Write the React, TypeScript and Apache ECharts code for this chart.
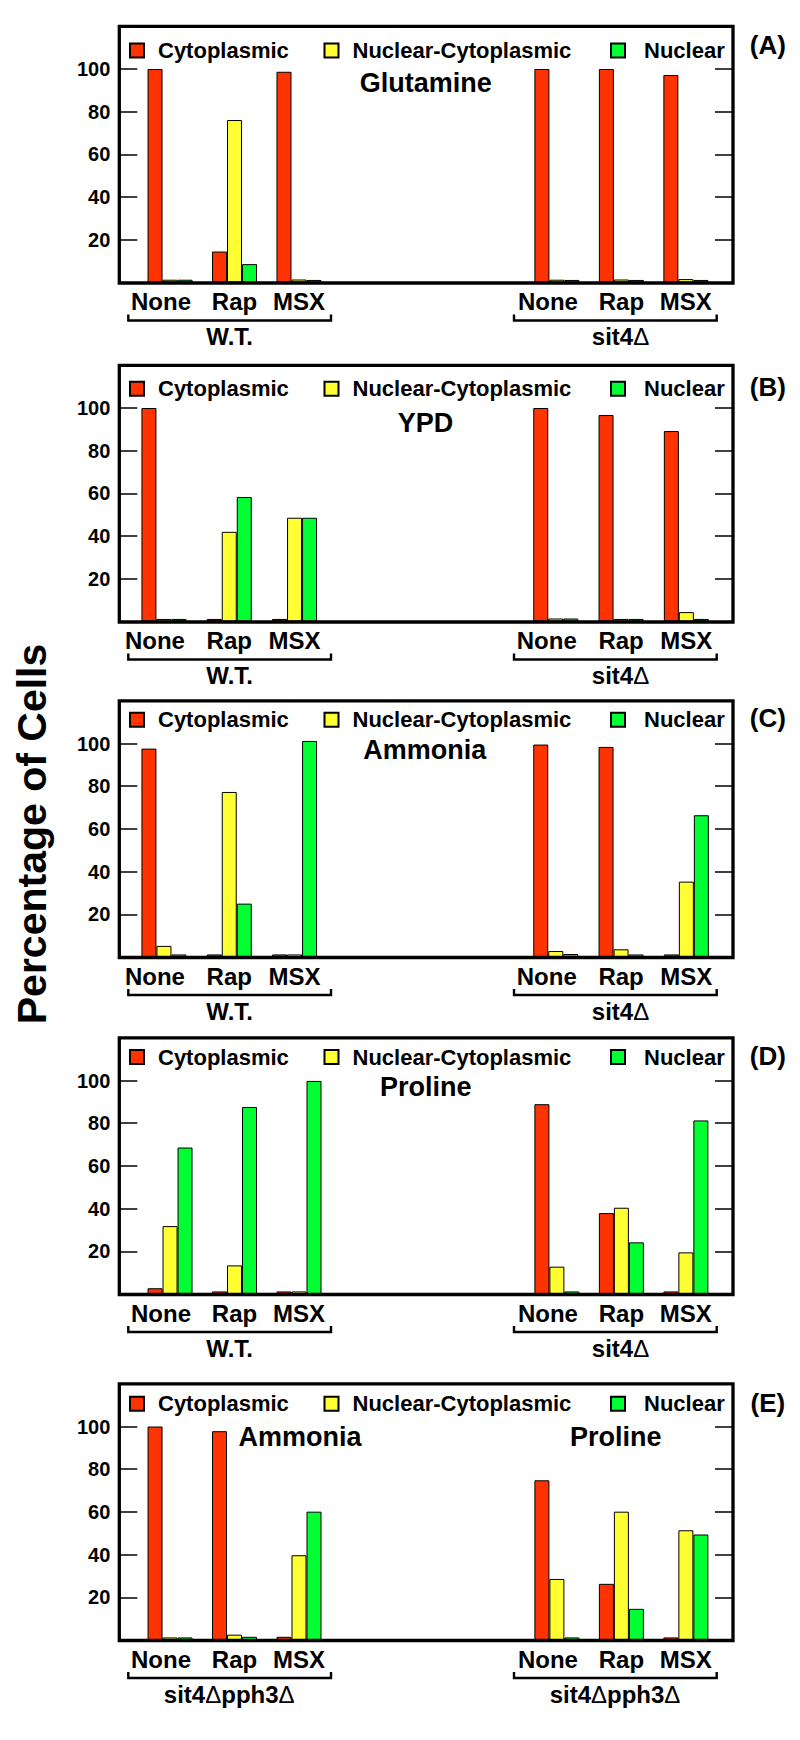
import React, { useEffect, useRef } from 'react';
import * as echarts from 'echarts';

// ---------- data ----------
const categories = ['None', 'Rap', 'MSX', '', '', '', 'None', 'Rap', 'MSX'];
const seriesNames = ['Cytoplasmic', 'Nuclear-Cytoplasmic', 'Nuclear'];
const seriesColors = ['#ff3300', '#ffff33', '#00ff33'];
const yTickLabels = [20, 40, 60, 80, 100];

// Panel A: Glutamine
const glutamineCyto = [100, 14.5, 98.7, null, null, null, 100, 100, 97.2];
const glutamineNucCyto = [1.3, 76.1, 1.4, null, null, null, 1.3, 1.4, 1.6];
const glutamineNuclear = [1.3, 8.6, 1.2, null, null, null, 1.2, 1.2, 1.2];

// Panel B: YPD
const ypdCyto = [100, 1.2, 1.2, null, null, null, 100, 96.7, 89.2];
const ypdNucCyto = [1.2, 42, 48.6, null, null, null, 1.4, 1.2, 4.4];
const ypdNuclear = [1.2, 58.3, 48.6, null, null, null, 1.4, 1.2, 1.2];

// Panel C: Ammonia
const ammoniaCyto = [97.6, 1.2, 1.2, null, null, null, 99.5, 98.4, 1.2];
const ammoniaNucCyto = [5.2, 77.3, 1.2, null, null, null, 2.8, 3.6, 35.3];
const ammoniaNuclear = [1.2, 25, 101.2, null, null, null, 1.4, 1.2, 66.4];

// Panel D: Proline
const prolineCyto = [2.7, 1.2, 1.2, null, null, null, 88.9, 37.9, 1.2];
const prolineNucCyto = [31.8, 13.4, 1.2, null, null, null, 12.8, 40.4, 19.5];
const prolineNuclear = [68.6, 87.6, 99.8, null, null, null, 1.2, 24.2, 81.3];

// Panel E: sit4Δpph3Δ on Ammonia (left) / Proline (right)
const doubleCyto = [100, 97.8, 1.5, null, null, null, 74.8, 26.3, 1.2];
const doubleNucCyto = [1.2, 2.5, 39.7, null, null, null, 28.6, 60.1, 51.4];
const doubleNuclear = [1.2, 1.5, 60.1, null, null, null, 1.2, 14.6, 49.4];

const panelData = [
  [glutamineCyto, glutamineNucCyto, glutamineNuclear],
  [ypdCyto, ypdNucCyto, ypdNuclear],
  [ammoniaCyto, ammoniaNucCyto, ammoniaNuclear],
  [prolineCyto, prolineNucCyto, prolineNuclear],
  [doubleCyto, doubleNucCyto, doubleNuclear],
];
const panelLetters = ['(A)', '(B)', '(C)', '(D)', '(E)'];
const panelConditions = [['Glutamine'], ['YPD'], ['Ammonia'], ['Proline'], ['Ammonia', 'Proline']];
const panelStrains = [
  ['W.T.', 'sit4Δ'],
  ['W.T.', 'sit4Δ'],
  ['W.T.', 'sit4Δ'],
  ['W.T.', 'sit4Δ'],
  ['sit4Δpph3Δ', 'sit4Δpph3Δ'],
];
const yAxisTitle = 'Percentage of Cells';

// ---------- layout (pixels) ----------
const FONT = "'Liberation Sans', Arial, Helvetica, sans-serif";
const FRAME_L = 119.3;
const FRAME_R = 733;
const PX_PER_UNIT = 2.135;
const Y_MAX = 120;
const layout = [
  { zero: 282.5, gl: 137.8, gr: 81.9, legendY: 50.5, letterY: 44.7, subY: 83.3, subX: [425.8], strainX: [229.7, 620.5] },
  { zero: 621.5, gl: 131.3, gr: 81.0, legendY: 388.7, letterY: 386.7, subY: 423.3, subX: [425.6], strainX: [229.7, 620.5] },
  { zero: 957, gl: 131.3, gr: 81.0, legendY: 719.7, letterY: 718.3, subY: 750, subX: [424.8], strainX: [229.7, 620.5] },
  { zero: 1294, gl: 137.8, gr: 81.9, legendY: 1057, letterY: 1055.8, subY: 1087, subX: [425.8], strainX: [229.7, 620.5] },
  { zero: 1640, gl: 137.8, gr: 81.9, legendY: 1403.8, letterY: 1403.3, subY: 1437, subX: [300, 615.8], strainX: [229.2, 615] },
];
const legendX = [129, 323.5, 610];
const legendTextGap = [9, 9, 14];
const bracketX = [[128.3, 331], [514, 716.7]];

function richDelta(s: string): string {
  return s
    .split('Δ')
    .map((part, i, arr) => (part ? `{b|${part}}` : '') + (i < arr.length - 1 ? '{d|Δ}' : ''))
    .join('');
}

function buildOption() {
  const grid: any[] = [];
  const xAxis: any[] = [];
  const yAxis: any[] = [];
  const series: any[] = [];
  const legend: any[] = [];
  const elements: any[] = [];

  layout.forEach((L, i) => {
    const h = Y_MAX * PX_PER_UNIT;
    const top = L.zero - h;
    grid.push({ left: L.gl, right: L.gr, top, height: h, containLabel: false, outerBoundsMode: 'none' });
    xAxis.push({
      type: 'category',
      gridIndex: i,
      data: categories.map((c) =>
        c === 'None' ? { value: c, textStyle: { padding: [0, 18, 0, 0] } } : c
      ),
      axisLine: { show: false },
      axisTick: { show: false },
      axisLabel: {
        interval: 0,
        margin: 7,
        fontSize: 24,
        fontWeight: 'bold',
        color: '#000',
        fontFamily: FONT,
      },
      splitLine: { show: false },
    });
    const yCommon = {
      type: 'value',
      gridIndex: i,
      min: 0,
      max: Y_MAX,
      interval: 20,
      axisLine: { show: false },
      splitLine: { show: false },
      axisTick: { show: true, inside: true, length: 18, lineStyle: { color: '#000', width: 1.5 } },
    };
    yAxis.push({
      ...yCommon,
      position: 'left',
      offset: L.gl - FRAME_L,
      axisLabel: {
        margin: 9,
        fontSize: 20,
        fontWeight: 'bold',
        color: '#000',
        fontFamily: FONT,
        formatter: (v: number) => (yTickLabels.includes(v) ? String(v) : ''),
      },
    });
    yAxis.push({
      ...yCommon,
      position: 'right',
      offset: FRAME_R - (800 - L.gr),
      axisLabel: { show: false },
    });

    panelData[i].forEach((vals, s) => {
      series.push({
        type: 'bar',
        name: seriesNames[s],
        xAxisIndex: i,
        yAxisIndex: 2 * i,
        data: vals,
        barWidth: 15,
        barGap: '0%',
        itemStyle: { color: seriesColors[s], borderColor: '#000', borderWidth: 1 },
        emphasis: { disabled: true },
      });
    });

    seriesNames.forEach((name, s) => {
      legend.push({
        data: [name],
        left: legendX[s],
        top: L.legendY - 11,
        padding: 0,
        itemGap: 0,
        itemWidth: 14,
        itemHeight: 14,
        icon: 'rect',
        selectedMode: false,
        textStyle: {
          fontSize: 22,
          fontWeight: 'bold',
          color: '#000',
          fontFamily: FONT,
          padding: [0, 0, 0, legendTextGap[s]],
        },
      });
    });

    // frame
    elements.push({
      type: 'rect',
      z: 10,
      shape: { x: FRAME_L, y: top, width: FRAME_R - FRAME_L, height: L.zero + 0.5 - top },
      style: { fill: 'none', stroke: '#000', lineWidth: 3.3 },
    });
    // panel letter
    elements.push({
      type: 'text',
      x: 767.8,
      y: L.letterY,
      style: {
        text: panelLetters[i],
        align: 'center',
        verticalAlign: 'middle',
        fontSize: 26,
        fontWeight: 'bold',
        fontFamily: FONT,
        fill: '#000',
      },
    });
    // condition titles
    panelConditions[i].forEach((t, k) => {
      elements.push({
        type: 'text',
        x: L.subX[k],
        y: L.subY,
        style: {
          text: t,
          align: 'center',
          verticalAlign: 'middle',
          fontSize: 27,
          fontWeight: 'bold',
          fontFamily: FONT,
          fill: '#000',
        },
      });
    });
    // brackets and strain labels
    const by = L.zero + 38;
    bracketX.forEach(([x1, x2], k) => {
      elements.push({
        type: 'polyline',
        shape: { points: [[x1, by - 6], [x1, by], [x2, by], [x2, by - 6]] },
        style: { stroke: '#000', lineWidth: 2.4, fill: 'none' },
      });
      elements.push({
        type: 'text',
        x: L.strainX[k],
        y: L.zero + 54,
        style: {
          text: richDelta(panelStrains[i][k]),
          align: 'center',
          verticalAlign: 'middle',
          fill: '#000',
          rich: {
            b: { fontSize: 24, fontWeight: 'bold', fontFamily: FONT, fill: '#000' },
            d: { fontSize: 24, fontWeight: 'normal', fontFamily: FONT, fill: '#000' },
          },
        },
      });
    });
  });

  elements.push({
    type: 'text',
    x: 32,
    y: 834,
    rotation: Math.PI / 2,
    style: {
      text: yAxisTitle,
      align: 'center',
      verticalAlign: 'middle',
      fontSize: 41,
      fontWeight: 'bold',
      fontFamily: FONT,
      fill: '#000',
    },
  });

  return {
    animation: false,
    backgroundColor: '#ffffff',
    textStyle: { fontFamily: FONT },
    grid,
    xAxis,
    yAxis,
    series,
    legend,
    graphic: { elements },
  };
}

export default function App() {
  const ref = useRef<HTMLDivElement>(null);
  useEffect(() => {
    if (!ref.current) return;
    const chart = echarts.init(ref.current, undefined, { renderer: 'svg' });
    chart.setOption(buildOption() as any);
    return () => chart.dispose();
  }, []);
  return (
    <div
      ref={ref}
      style={{ position: 'absolute', left: 0, top: 0, width: 800, height: 1740, background: '#fff' }}
    />
  );
}
